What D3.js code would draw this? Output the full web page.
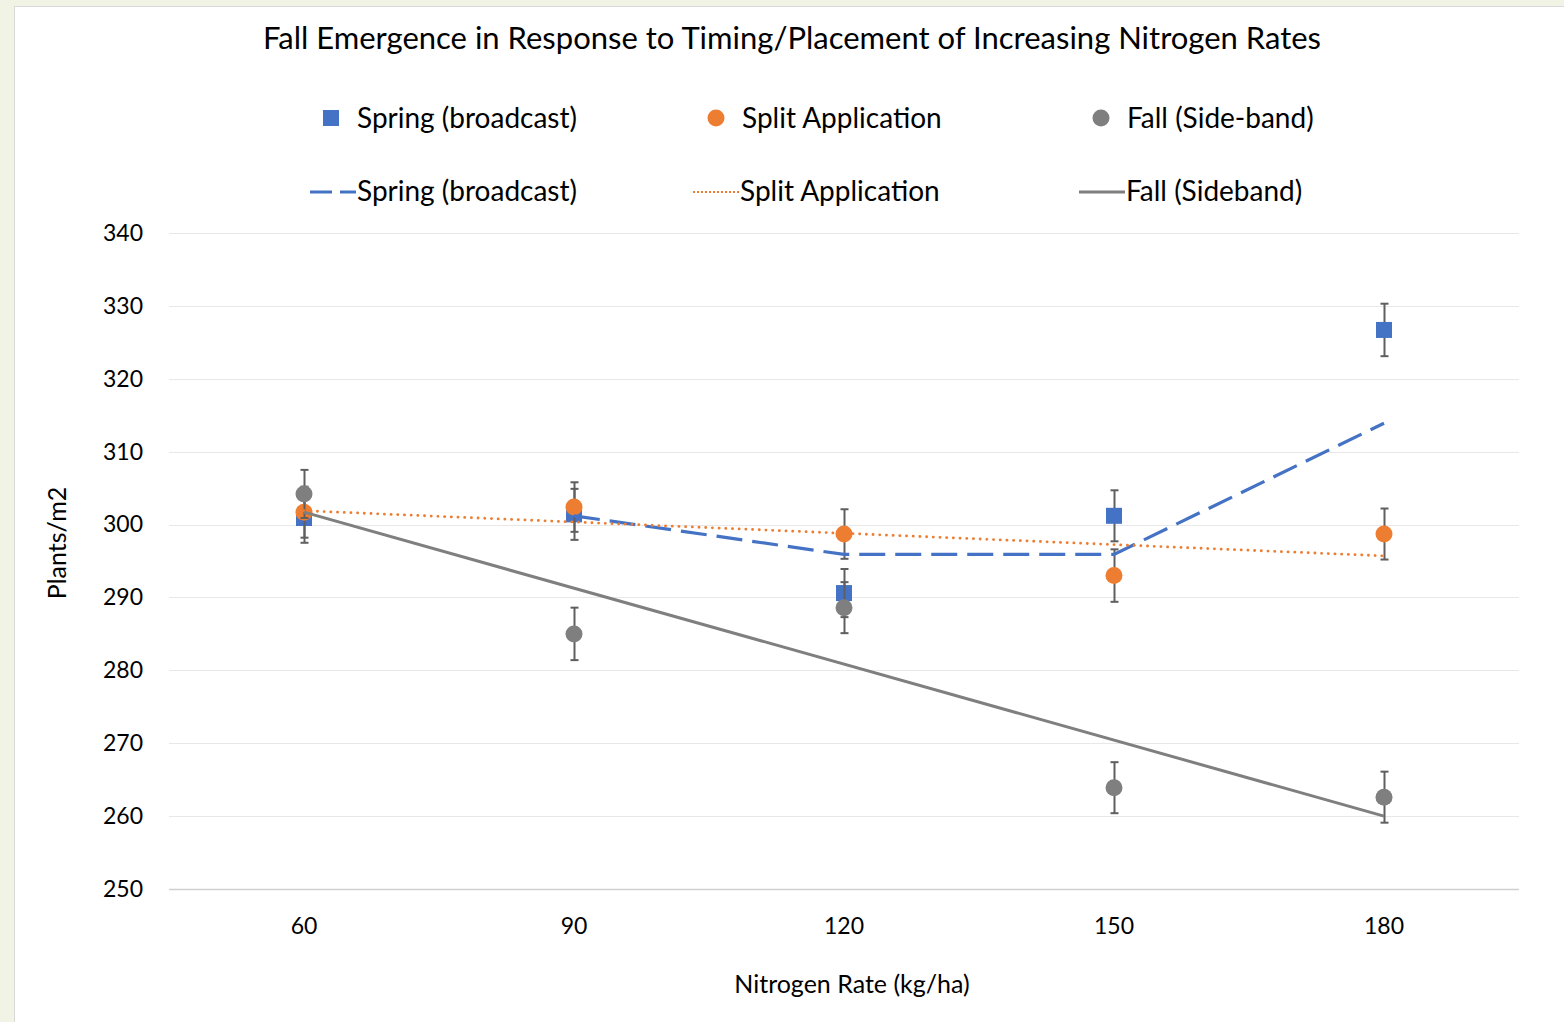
<!DOCTYPE html>
<html>
<head>
<meta charset="utf-8">
<script src="https://cdn.jsdelivr.net/npm/d3@7"></script>
<style>
  body { margin: 0; background: #f1f3e5; }
  svg { display: block; font-family: Lato, "Open Sans", sans-serif; }
</style>
</head>
<body>
<svg id="chart" width="1564" height="1022"></svg>
<script>
// data
var rates = ["60", "90", "120", "150", "180"];
var spring = [300.9, 301.4, 290.6, 301.2, 326.7];
var springErr = [3.4, 3.5, 3.3, 3.5, 3.6];
var split = [301.7, 302.4, 298.7, 293.0, 298.7];
var splitErr = [3.5, 3.4, 3.4, 3.6, 3.5];
var fall = [304.2, 285.0, 288.6, 263.9, 262.6];
var fallErr = [3.3, 3.6, 3.5, 3.5, 3.5];
// trendlines: spring = 2 period moving average, split + fall = linear
var springTrend = [null, 301.2, 295.9, 295.9, 313.9];
var splitTrend = [301.9, null, null, null, 295.7];
var fallTrend = [301.7, null, null, null, 260.0];
var yTicks = [250, 260, 270, 280, 290, 300, 310, 320, 330, 340];

var svg = d3.select("#chart");
var margin = {top: 233, right: 45, bottom: 133, left: 169};
var width = 1564 - margin.left - margin.right,
    height = 1022 - margin.top - margin.bottom;

// chart panel
svg.append("rect").attr("x", 14.5).attr("y", 6.5).attr("width", 1600).attr("height", 1100)
  .attr("fill", "#fff").attr("stroke", "#d9d9d9").attr("stroke-width", 1);

var x = d3.scaleBand().domain(rates).range([0, width]);
var y = d3.scaleLinear().domain([250, 340]).range([height, 0]);
var cx = function(i) { return x(rates[i]) + x.bandwidth() / 2; };

var g = svg.append("g").attr("transform", "translate(" + margin.left + "," + margin.top + ")");

// gridlines
g.selectAll(".grid").data(yTicks).enter().append("line")
  .attr("x1", 0).attr("x2", width)
  .attr("y1", function(d) { return Math.round(y(d)) + 0.5; })
  .attr("y2", function(d) { return Math.round(y(d)) + 0.5; })
  .attr("stroke", function(d) { return d == 250 ? "#d0d0d0" : "#e8e8e8"; })
  .attr("stroke-width", function(d) { return d == 250 ? 1.5 : 1.2; });

// axes (text only)
var yAx = g.append("g").call(d3.axisLeft(y).tickValues(yTicks).tickSize(0).tickPadding(26));
yAx.select(".domain").remove();
yAx.selectAll("text").attr("font-size", "23px").attr("fill", "#000").attr("font-family", "Lato");

var xAx = g.append("g").attr("transform", "translate(0," + height + ")")
  .call(d3.axisBottom(x).tickSize(0).tickPadding(29));
xAx.select(".domain").remove();
xAx.selectAll("text").attr("font-size", "23px").attr("fill", "#000").attr("font-family", "Lato");

var series = [
  {vals: spring, err: springErr, color: "#4472c4", shape: "square"},
  {vals: split, err: splitErr, color: "#ed7d31", shape: "circle"},
  {vals: fall, err: fallErr, color: "#7f7f7f", shape: "circle"}
];

series.forEach(function(s) {
  var sg = g.append("g");
  // error bars
  s.vals.forEach(function(v, i) {
    var xx = Math.round(cx(i)) + 0.5;
    sg.append("line").attr("x1", xx).attr("x2", xx)
      .attr("y1", y(v + s.err[i])).attr("y2", y(v - s.err[i]))
      .attr("stroke", "#5f5f5f").attr("stroke-width", 2);
    [v + s.err[i], v - s.err[i]].forEach(function(e) {
      sg.append("line").attr("x1", xx - 4).attr("x2", xx + 4)
        .attr("y1", y(e)).attr("y2", y(e))
        .attr("stroke", "#5f5f5f").attr("stroke-width", 2);
    });
  });
  // markers
  s.vals.forEach(function(v, i) {
    if (s.shape == "square") {
      sg.append("rect").attr("x", cx(i) - 8).attr("y", y(v) - 8)
        .attr("width", 16).attr("height", 16).attr("fill", s.color);
    } else {
      sg.append("circle").attr("cx", cx(i)).attr("cy", y(v)).attr("r", 8.5).attr("fill", s.color);
    }
  });
});

// trendlines
var trendLine = d3.line()
  .x(function(d) { return cx(d.i); })
  .y(function(d) { return y(d.v); });
function pts(arr) {
  return arr.map(function(v, i) { return {i: i, v: v}; }).filter(function(d) { return d.v != null; });
}
g.append("path").datum(pts(springTrend)).attr("d", trendLine)
  .attr("fill", "none").attr("stroke", "#4472c4").attr("stroke-width", 3.2)
  .attr("stroke-dasharray", "26,10");
g.append("path").datum(pts(splitTrend)).attr("d", trendLine)
  .attr("fill", "none").attr("stroke", "#ed7d31").attr("stroke-width", 2.8)
  .attr("stroke-linecap", "round").attr("stroke-dasharray", "0.1,6.6");
g.append("path").datum(pts(fallTrend)).attr("d", trendLine)
  .attr("fill", "none").attr("stroke", "#7f7f7f").attr("stroke-width", 3);

// title
svg.append("text").attr("x", 792).attr("y", 49).attr("text-anchor", "middle")
  .attr("font-size", "31px").attr("fill", "#000")
  .text("Fall Emergence in Response to Timing/Placement of Increasing Nitrogen Rates");

// axis titles
svg.append("text").attr("x", 852).attr("y", 993).attr("text-anchor", "middle")
  .attr("font-size", "25px").text("Nitrogen Rate (kg/ha)");
svg.append("text").attr("transform", "translate(66,543) rotate(-90)").attr("text-anchor", "middle")
  .attr("font-size", "25px").text("Plants/m2");

// legend
var legMarkers = [
  {name: "Spring (broadcast)", color: "#4472c4", shape: "square", x: 331},
  {name: "Split Application", color: "#ed7d31", shape: "circle", x: 716},
  {name: "Fall (Side-band)", color: "#7f7f7f", shape: "circle", x: 1101}
];
var legLines = [
  {name: "Spring (broadcast)", color: "#4472c4", dash: "22,8", x: 310},
  {name: "Split Application", color: "#ed7d31", dash: "2,2", x: 693},
  {name: "Fall (Sideband)", color: "#7f7f7f", dash: null, x: 1079}
];
var leg1 = svg.append("g");
legMarkers.forEach(function(d) {
  if (d.shape == "square") {
    leg1.append("rect").attr("x", d.x - 8).attr("y", 110).attr("width", 16).attr("height", 16).attr("fill", d.color);
  } else {
    leg1.append("circle").attr("cx", d.x).attr("cy", 118).attr("r", 8.5).attr("fill", d.color);
  }
  leg1.append("text").attr("x", d.x + 26).attr("y", 128).attr("font-size", "28px").text(d.name);
});
legLines.forEach(function(d) {
  var l = leg1.append("line").attr("x1", d.x).attr("x2", d.x + 46).attr("y1", 192).attr("y2", 192)
    .attr("stroke", d.color).attr("stroke-width", d.dash == "2,2" ? 2 : 3);
  if (d.dash) l.attr("stroke-dasharray", d.dash);
  leg1.append("text").attr("x", d.x + 47).attr("y", 201).attr("font-size", "28px").text(d.name);
});
</script>
</body>
</html>
